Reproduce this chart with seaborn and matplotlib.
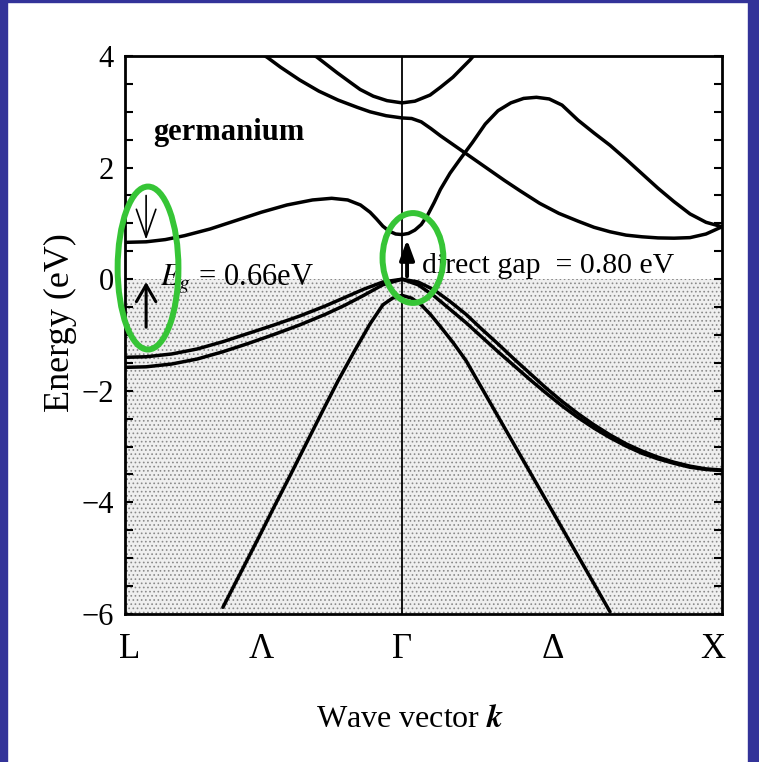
import matplotlib
matplotlib.use("Agg")
import numpy as np
import pandas as pd
import matplotlib.pyplot as plt
import seaborn as sns
from matplotlib.patches import Ellipse, Rectangle, FancyArrowPatch

# Path L -> Gamma -> X in units of 2*pi/a
TICK_POS = [-0.85, -0.44, 0.0, 0.47, 0.97]
TICK_LABELS = ["L", "Λ", "Γ", "Δ", "X"]
Y_TICKS = [-6, -4, -2, 0, 2, 4]

E_GAP = 0.66      # indirect gap at L
E_DIRECT = 0.80   # direct gap at Gamma

# Lowest conduction band
cb1_lg_k = [-0.866, -0.80, -0.74, -0.68, -0.60, -0.52, -0.44, -0.36, -0.28, -0.22,
            -0.17, -0.13, -0.10, -0.08, -0.06, -0.04, -0.02]
cb1_lg_e = [0.66, 0.67, 0.71, 0.78, 0.90, 1.05, 1.20, 1.33, 1.42, 1.45,
            1.42, 1.33, 1.20, 1.08, 0.95, 0.86, 0.81]
cb1_gx_k = [0.0, 0.02, 0.04, 0.06, 0.08, 0.10, 0.12, 0.15, 0.18, 0.22, 0.26, 0.30,
            0.34, 0.38, 0.42, 0.46, 0.50, 0.55, 0.60, 0.65, 0.70, 0.75, 0.80, 0.85,
            0.90, 0.95, 1.0]
cb1_gx_e = [0.80, 0.82, 0.88, 0.98, 1.15, 1.37, 1.61, 1.90, 2.14, 2.45, 2.78, 3.02,
            3.16, 3.24, 3.26, 3.23, 3.12, 2.85, 2.62, 2.40, 2.15, 1.89, 1.63, 1.39,
            1.17, 1.02, 0.94]

# Second conduction band
cb2_k = [-0.46, -0.42, -0.38, -0.32, -0.26, -0.20, -0.14, -0.10, -0.05, 0.0,
         0.03, 0.06, 0.09, 0.12, 0.16, 0.20, 0.24, 0.28, 0.32, 0.37, 0.43, 0.49,
         0.55, 0.60, 0.65, 0.70, 0.75, 0.80, 0.85, 0.90, 0.95, 1.0]
cb2_e = [4.12, 3.97, 3.80, 3.57, 3.37, 3.21, 3.08, 3.00, 2.93, 2.89,
         2.88, 2.82, 2.70, 2.57, 2.41, 2.25, 2.09, 1.93, 1.77, 1.58, 1.36, 1.18,
         1.04, 0.93, 0.85, 0.79, 0.76, 0.74, 0.735, 0.745, 0.81, 0.94]

# Third conduction band
cb3_k = [-0.30, -0.266, -0.23, -0.203, -0.16, -0.131, -0.09, -0.047, 0.0,
         0.04, 0.0875, 0.12, 0.159, 0.19, 0.2125, 0.235]
cb3_e = [4.10, 3.98, 3.82, 3.70, 3.52, 3.40, 3.28, 3.20, 3.16,
         3.19, 3.30, 3.44, 3.62, 3.80, 3.93, 4.08]

# Heavy- and light-hole valence bands
vb_lg_k = [-0.866, -0.80, -0.72, -0.64, -0.56, -0.48, -0.40, -0.32, -0.24, -0.18,
           -0.12, -0.06]
hh_lg_e = [-1.40, -1.39, -1.34, -1.25, -1.12, -0.97, -0.82, -0.66, -0.48, -0.33,
           -0.18, -0.05]
lh_lg_e = [-1.58, -1.57, -1.52, -1.43, -1.30, -1.15, -0.99, -0.82, -0.63, -0.47,
           -0.29, -0.10]
vb_gx_k = [0.0, 0.05, 0.10, 0.15, 0.20, 0.25, 0.30, 0.35, 0.40, 0.45, 0.50, 0.55,
           0.60, 0.65, 0.70, 0.75, 0.80, 0.85, 0.90, 0.95, 1.0]
hh_gx_e = [0.0, -0.05, -0.19, -0.40, -0.63, -0.90, -1.16, -1.43, -1.69, -1.95, -2.19,
           -2.41, -2.61, -2.79, -2.95, -3.08, -3.19, -3.28, -3.35, -3.40, -3.42]
lh_gx_e = [0.0, -0.10, -0.30, -0.54, -0.78, -1.04, -1.30, -1.55, -1.80, -2.04, -2.27,
           -2.48, -2.67, -2.84, -2.99, -3.12, -3.22, -3.30, -3.37, -3.41, -3.43]

# Split-off band
so_k = [-0.56, -0.50, -0.45, -0.40, -0.35, -0.30, -0.25, -0.20, -0.15, -0.10, -0.06,
        -0.03, 0.0, 0.03, 0.06, 0.09, 0.12, 0.16, 0.20, 0.25, 0.30, 0.35, 0.40, 0.45,
        0.50, 0.55, 0.60, 0.65]
so_e = [-5.88, -5.21, -4.65, -4.08, -3.52, -2.95, -2.38, -1.82, -1.30, -0.80, -0.46,
        -0.34, -0.29, -0.34, -0.46, -0.64, -0.85, -1.14, -1.46, -1.96, -2.46, -2.96,
        -3.46, -3.96, -4.46, -4.96, -5.46, -5.96]


def band(name, k, e):
    return pd.DataFrame({"k": k, "E": e, "band": name})


bands = pd.concat([
    band("cb1", cb1_lg_k + cb1_gx_k, cb1_lg_e + cb1_gx_e),
    band("cb2", cb2_k, cb2_e),
    band("cb3", cb3_k, cb3_e),
    band("hh", vb_lg_k + vb_gx_k, hh_lg_e + hh_gx_e),
    band("lh", vb_lg_k + vb_gx_k, lh_lg_e + lh_gx_e),
    band("so", so_k, so_e),
], ignore_index=True)

sns.set_style("ticks")
plt.rcParams["font.family"] = ["Liberation Serif", "DejaVu Serif"]
plt.rcParams["mathtext.fontset"] = "stix"
plt.rcParams["hatch.linewidth"] = 0.7
for key in ["text.color", "axes.labelcolor", "xtick.color", "ytick.color",
            "xtick.labelcolor", "ytick.labelcolor"]:
    plt.rcParams[key] = "black"

W, H = 759, 762
fig = plt.figure(figsize=(W / 100, H / 100), dpi=100)
fig.patch.set_facecolor("white")
ax = fig.add_axes([125 / W, 148 / H, 597 / W, 558 / H])

# occupied states below the valence-band maximum
ax.axhspan(-6, 0, facecolor="#efefef", edgecolor="#8a8a8a", hatch="....",
           linewidth=0, zorder=0)
ax.axvline(0.0, color="black", lw=1.3, zorder=1)

sns.lineplot(data=bands, x="k", y="E", units="band", estimator=None, sort=False,
             color="black", lw=2.5, ax=ax, legend=False, zorder=3)

ax.set_xlim(-0.866, 1.0)
ax.set_ylim(-6, 4)
ax.set_xticks(TICK_POS)
ax.set_xticklabels(TICK_LABELS, fontsize=25)
ax.set_yticks(Y_TICKS)
ax.set_yticks(np.arange(-6, 4.01, 0.5), minor=True)
ax.set_yticklabels([f"{v}".replace("-", "\u2212") for v in Y_TICKS], fontsize=22)
ax.tick_params(axis="x", length=0, pad=14)
ax.tick_params(axis="y", which="both", direction="in", left=True, right=True,
               length=6, width=1.5, pad=8)
for s in ax.spines.values():
    s.set_linewidth(2.0)
    s.set_color("black")

ax.set_xlabel(r"Wave vector $\mathbfit{k}$", fontsize=23)
ax.xaxis.set_label_coords(0.478, -0.163)
ax.set_ylabel("Energy (eV)", fontsize=26)
ax.yaxis.set_label_coords(-0.08, 0.522)

# labels
ax.text(-0.778, 2.49, "germanium", fontsize=22, fontweight="bold", va="baseline")
ax.text(-0.756, -0.10, r"$E_g$ = 0.66eV", fontsize=22, va="baseline")
ax.text(0.0625, 0.11, "direct gap  = 0.80 eV", fontsize=21.5, va="baseline")

# gap arrows
ax.add_patch(FancyArrowPatch((-0.80, 1.55), (-0.80, E_GAP),
                             arrowstyle="->,head_length=1.0,head_width=0.35",
                             mutation_scale=20, lw=1.2, color="black", zorder=5))
ax.add_patch(FancyArrowPatch((-0.80, -0.91), (-0.80, 0.0),
                             arrowstyle="->,head_length=0.6,head_width=0.35",
                             mutation_scale=20, lw=2.2, color="black", zorder=5))
ax.add_patch(FancyArrowPatch((0.0156, 0.0), (0.0156, E_DIRECT - 0.04),
                             arrowstyle="-|>,head_length=0.6,head_width=0.22",
                             mutation_scale=20, lw=2.8, color="black", zorder=5))

# highlight rings
green = "#36c536"
for cx, cy, w, h in [(-0.794, 0.20, 0.19, 2.92), (0.034, 0.38, 0.19, 1.61)]:
    ax.add_patch(Ellipse((cx, cy), w, h, fill=False, edgecolor=green, lw=4.3,
                         zorder=10, clip_on=False))

# slide frame
blue = "#333399"
for r in [(0, 0, 7 / W, 1), (0, 1 - 2 / H, 1, 2 / H), (748 / W, 0, 11 / W, 1)]:
    fig.add_artist(Rectangle(r[:2], r[2], r[3], transform=fig.transFigure,
                             color=blue, zorder=20))

fig.savefig("out.png", dpi=100)
